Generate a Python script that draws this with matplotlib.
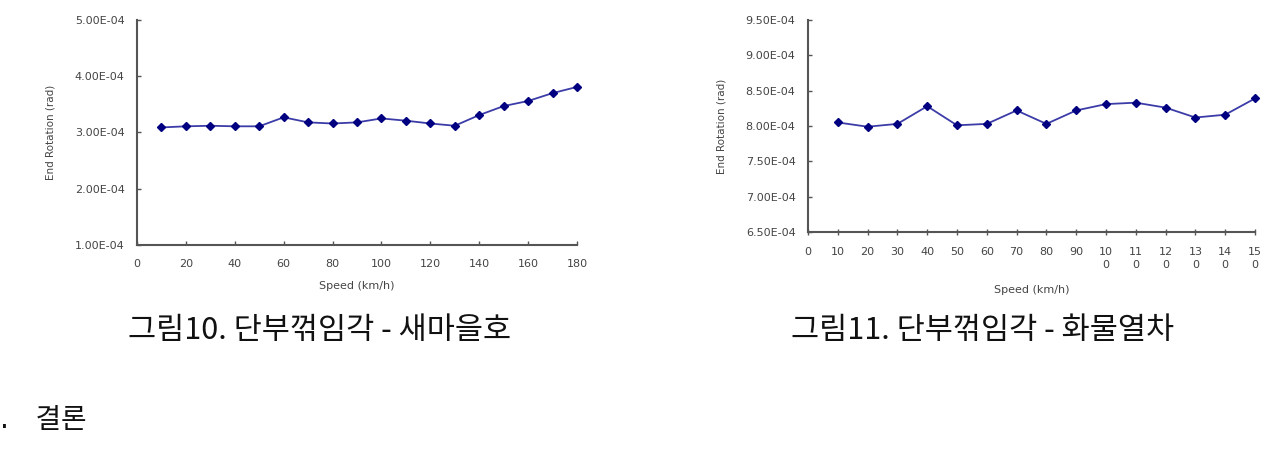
import matplotlib
matplotlib.use("Agg")
import matplotlib.pyplot as plt
from matplotlib.ticker import FuncFormatter

plt.rcParams['font.family'] = ['DejaVu Sans', 'Noto Sans CJK KR']

# Left chart: 새마을호
speed_left = [10, 20, 30, 40, 50, 60, 70, 80, 90, 100, 110, 120, 130, 140, 150, 160, 170, 180]
rot_left = [3.09e-4, 3.11e-4, 3.12e-4, 3.11e-4, 3.11e-4, 3.27e-4, 3.18e-4, 3.16e-4, 3.18e-4,
            3.25e-4, 3.21e-4, 3.16e-4, 3.12e-4, 3.31e-4, 3.47e-4, 3.56e-4, 3.70e-4, 3.81e-4]
xticks_left = [0, 20, 40, 60, 80, 100, 120, 140, 160, 180]
yticks_left = [1.0e-4, 2.0e-4, 3.0e-4, 4.0e-4, 5.0e-4]

# Right chart: 화물열차
speed_right = [10, 20, 30, 40, 50, 60, 70, 80, 90, 100, 110, 120, 130, 140, 150]
rot_right = [8.05e-4, 7.99e-4, 8.03e-4, 8.28e-4, 8.01e-4, 8.03e-4, 8.22e-4, 8.03e-4, 8.22e-4,
             8.31e-4, 8.33e-4, 8.26e-4, 8.12e-4, 8.16e-4, 8.39e-4]
xticks_right = [0, 10, 20, 30, 40, 50, 60, 70, 80, 90, 100, 110, 120, 130, 140, 150]
xticklabels_right = ["0", "10", "20", "30", "40", "50", "60", "70", "80", "90",
                     "10\n0", "11\n0", "12\n0", "13\n0", "14\n0", "15\n0"]
yticks_right = [6.5e-4, 7.0e-4, 7.5e-4, 8.0e-4, 8.5e-4, 9.0e-4, 9.5e-4]

captions = ["그림10. 단부꺾임각 - 새마을호", "그림11. 단부꺾임각 - 화물열차"]
section = ".   결론"

W, H = 1283, 465
fig = plt.figure(figsize=(W / 100, H / 100), dpi=100)

def fmt(v, pos):
    return "%.2E" % v

line_color = "#3c3ca8"
marker_color = "#000080"
axis_color = "#555555"
label_color = "#444444"
tick_fs = 8

def style(ax, xdir):
    for s in ["top", "right"]:
        ax.spines[s].set_visible(False)
    for s in ["left", "bottom"]:
        ax.spines[s].set_color(axis_color)
        ax.spines[s].set_linewidth(1.5)
    ax.tick_params(axis="both", colors=axis_color, labelcolor=label_color,
                   labelsize=tick_fs, width=1)
    ax.tick_params(axis="y", direction="in", length=3, pad=9)
    ax.tick_params(axis="x", direction=xdir, length=4 if xdir == "inout" else 3, pad=10)
    ax.yaxis.set_major_formatter(FuncFormatter(fmt))

ax1 = fig.add_axes([137 / W, 1 - 245 / H, (577 - 137) / W, (245 - 20) / H])
ax1.plot(speed_left, rot_left, color=line_color, lw=1.3, marker="D", ms=4.5,
         mfc=marker_color, mec=marker_color, clip_on=False)
ax1.set_xlim(0, 180)
ax1.set_ylim(1.0e-4, 5.0e-4)
ax1.set_xticks(xticks_left)
ax1.set_yticks(yticks_left)
style(ax1, "in")
ax1.set_xlabel("Speed (km/h)", fontsize=8, color=label_color, labelpad=9)
ax1.set_ylabel("End Rotation (rad)", fontsize=7.5, color=label_color, labelpad=14)

ax2 = fig.add_axes([808 / W, 1 - 232 / H, (1255 - 808) / W, (232 - 20) / H])
ax2.plot(speed_right, rot_right, color=line_color, lw=1.3, marker="D", ms=4.5,
         mfc=marker_color, mec=marker_color, clip_on=False)
ax2.set_xlim(0, 150)
ax2.set_ylim(6.5e-4, 9.5e-4)
ax2.set_xticks(xticks_right)
ax2.set_xticklabels(xticklabels_right, linespacing=1.3, va="top")
ax2.set_yticks(yticks_right)
style(ax2, "inout")
ax2.tick_params(axis="x", pad=9)
ax2.set_xlabel("Speed (km/h)", fontsize=8, color=label_color, labelpad=11)
ax2.set_ylabel("End Rotation (rad)", fontsize=7.5, color=label_color, labelpad=14)

cap_family = ["Noto Sans CJK KR", "DejaVu Sans"]
fig.text(320 / W, 1 - 330 / H, captions[0], ha="center", va="center", fontsize=22,
         family=cap_family, color="#111111")
fig.text(983 / W, 1 - 330 / H, captions[1], ha="center", va="center", fontsize=22,
         family=cap_family, color="#111111")
fig.text(0 / W, 1 - 420 / H, section, ha="left", va="center", fontsize=20,
         family=["DejaVu Sans", "Noto Sans CJK KR"], color="#111111")

fig.savefig("out.png", dpi=100, facecolor="white")
